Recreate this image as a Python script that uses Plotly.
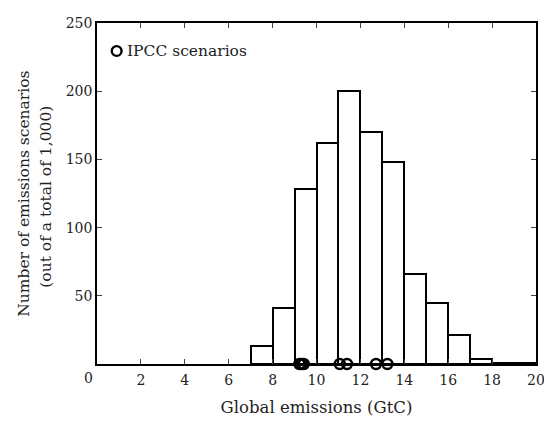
import plotly.graph_objects as go

# Histogram bins (GtC) and counts
bin_left = [7, 8, 9, 10, 11, 12, 13, 14, 15, 16, 17, 18, 19]
counts = [13, 41, 128, 162, 200, 170, 148, 66, 45, 21, 4, 1, 1]

# IPCC scenarios (GtC)
ipcc_x = [9.22, 9.32, 9.42, 11.06, 11.39, 12.71, 13.23]
ipcc_y = [0, 0, 0, 0, 0, 0, 0]

x_ticks = [2, 4, 6, 8, 10, 12, 14, 16, 18, 20]
y_ticks = [50, 100, 150, 200, 250]

y_title_1 = "Number of emissions scenarios"
y_title_2 = "(out of a total of 1,000)"

FONT = "DejaVu Serif"

fig = go.Figure()
fig.add_trace(go.Bar(
    x=[b + 0.5 for b in bin_left], y=counts, width=1,
    marker=dict(color="white", line=dict(color="black", width=2)),
    showlegend=False, hoverinfo="skip"))
fig.add_trace(go.Scatter(
    x=ipcc_x, y=ipcc_y, mode="markers", cliponaxis=False,
    marker=dict(symbol="circle-open", size=10, color="black", line=dict(width=2.4)),
    showlegend=False))

cx, cy = 0.0448, 0.918
rx, ry = 0.0112, 0.0143

fig.update_layout(
    width=544, height=426,
    margin=dict(l=89, r=9, t=7, b=70),
    plot_bgcolor="white", paper_bgcolor="white",
    font=dict(family=FONT, size=14, color="#222"),
    bargap=0,
    xaxis=dict(range=[0, 20], tickvals=x_ticks, ticks="inside", ticklen=5,
               showline=True, linecolor="black", linewidth=1.5, mirror="ticks",
               showgrid=False, zeroline=False, ticklabelstandoff=2,
               title=dict(text="Global emissions (GtC)", font=dict(size=16.5), standoff=15)),
    yaxis=dict(range=[0, 250], tickvals=y_ticks, ticks="inside", ticklen=5,
               showline=True, linecolor="black", linewidth=1.5, mirror="ticks",
               showgrid=False, zeroline=False),
    shapes=[dict(type="circle", xref="paper", yref="paper",
                 x0=cx - rx, x1=cx + rx, y0=cy - ry, y1=cy + ry,
                 line=dict(color="black", width=2.4))],
    annotations=[
        dict(text="IPCC scenarios", xref="paper", yref="paper", x=0.063, y=cy,
             xanchor="left", yanchor="middle", showarrow=False, font=dict(size=15.5)),
        dict(text="0", xref="paper", yref="paper", x=-0.02, y=-0.0415,
             xanchor="center", yanchor="middle", showarrow=False, font=dict(size=14)),
        dict(text=y_title_1, xref="paper", yref="paper", x=-0.168, y=0.5,
             xanchor="center", yanchor="middle", textangle=-90, showarrow=False,
             font=dict(size=15.5)),
        dict(text=y_title_2, xref="paper", yref="paper", x=-0.1166, y=0.49,
             xanchor="center", yanchor="middle", textangle=-90, showarrow=False,
             font=dict(size=15.5)),
    ],
)

fig.write_html("out.html")
